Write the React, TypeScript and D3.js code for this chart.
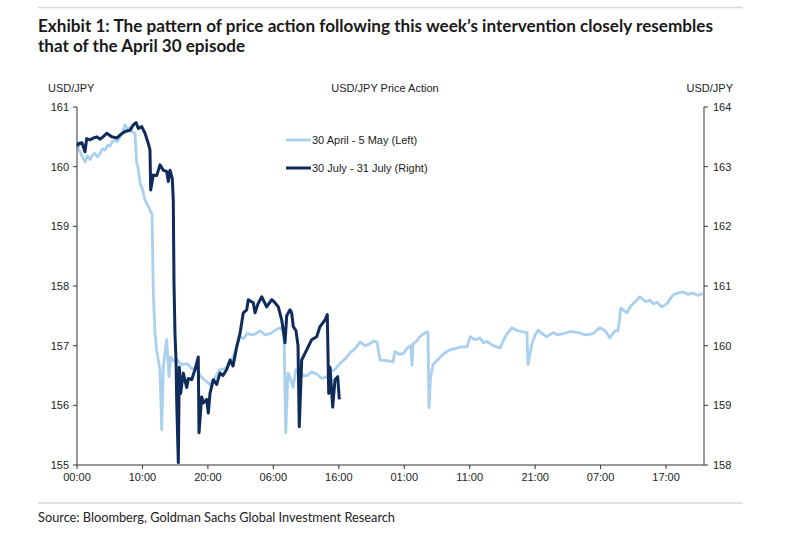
import React from 'react';
import * as d3 from 'd3';

type Pt = [number, number];

// 30 April - 5 May, hours from start vs USD/JPY (left axis)
const aprilSeries: Pt[] = [
  [0.11, 160.34], [0.46, 160.25], [1.22, 160.08], [1.6, 160.18], [1.99, 160.12],
  [2.4, 160.2], [2.75, 160.22], [3.1, 160.16], [3.51, 160.22], [3.9, 160.3],
  [4.28, 160.28], [4.7, 160.36], [5.04, 160.34], [5.4, 160.42], [5.81, 160.44],
  [6.2, 160.42], [6.57, 160.5], [7.03, 160.6], [7.33, 160.7], [7.79, 160.62],
  [8.1, 160.66], [8.4, 160.58], [8.86, 160.56], [9.12, 160.06], [9.3, 160.0],
  [9.63, 159.73], [10.0, 159.62], [10.39, 159.44], [10.7, 159.38], [11.15, 159.27],
  [11.46, 159.2], [11.66, 157.88], [11.92, 157.2], [12.2, 156.9], [12.42, 156.76],
  [12.68, 156.6], [12.94, 155.59], [13.19, 156.64], [13.7, 157.1], [14.06, 156.48],
  [14.32, 156.81], [14.8, 156.74], [15.28, 156.76], [16.0, 156.68], [16.8, 156.7],
  [17.5, 156.62], [18.33, 156.6], [18.8, 156.5], [19.25, 156.45], [19.8, 156.4],
  [20.32, 156.35], [21.0, 156.45], [21.85, 156.6], [22.8, 156.62], [23.83, 156.8],
  [24.4, 157.0], [24.9, 157.15], [25.5, 157.12], [25.97, 157.2], [27.0, 157.18],
  [27.96, 157.25], [28.7, 157.18], [29.5, 157.2], [30.3, 157.26], [31.0, 157.3],
  [31.63, 157.25], [31.89, 155.54], [32.24, 156.54], [32.6, 156.45], [33.0, 156.3],
  [33.46, 156.6], [34.07, 156.55], [34.6, 156.5], [35.14, 156.5], [35.9, 156.56],
  [36.67, 156.52], [37.4, 156.45], [38.2, 156.48], [38.66, 156.6], [39.2, 156.58],
  [39.72, 156.64], [40.18, 156.7], [41.0, 156.78], [41.7, 156.88], [42.5, 156.95],
  [43.24, 157.06], [44.0, 157.0], [44.77, 157.03], [45.3, 157.08], [45.84, 157.06],
  [46.3, 156.76], [47.3, 156.75], [48.28, 156.73], [48.59, 156.9], [49.2, 156.86],
  [49.8, 156.86], [50.4, 156.95], [50.88, 157.0], [51.03, 157.0], [51.18, 156.67],
  [51.34, 157.03], [51.9, 157.08], [52.4, 157.15], [53.0, 157.2], [53.47, 157.23],
  [53.63, 157.22], [53.78, 155.96], [54.0, 156.45], [54.39, 156.68], [55.0, 156.75],
  [55.46, 156.8], [56.2, 156.88], [56.99, 156.93], [57.8, 156.95], [58.7, 156.98],
  [59.59, 156.98], [60.05, 157.15], [60.8, 157.1], [61.57, 157.13], [62.1, 157.05],
  [62.64, 157.07], [63.6, 157.0], [64.63, 156.96], [65.2, 157.1], [65.7, 157.2],
  [66.46, 157.3], [67.3, 157.25], [68.14, 157.23], [68.75, 157.22], [68.9, 156.68],
  [69.52, 157.03], [70.0, 157.18], [70.44, 157.26], [71.1, 157.2], [71.8, 157.15],
  [72.73, 157.22], [73.5, 157.18], [74.26, 157.2], [75.4, 157.24], [76.55, 157.22],
  [77.7, 157.18], [78.84, 157.2], [79.4, 157.26], [79.9, 157.3], [80.7, 157.25],
  [81.43, 157.13], [82.2, 157.25], [82.66, 157.25], [83.1, 157.63], [84.03, 157.55],
  [84.6, 157.66], [85.25, 157.73], [86.0, 157.82], [86.8, 157.74], [87.53, 157.76],
  [88.1, 157.7], [88.6, 157.73], [89.36, 157.65], [90.12, 157.7], [90.6, 157.78],
  [91.06, 157.85], [91.8, 157.88], [92.6, 157.9], [93.3, 157.86], [94.1, 157.88],
  [94.9, 157.84], [95.6, 157.88],
];

// 30 July - 31 July, hours from start vs USD/JPY (right axis)
const julySeries: Pt[] = [
  [0.11, 163.34], [0.2, 163.39], [0.76, 163.4], [1.22, 163.25], [1.48, 163.47],
  [1.99, 163.45], [2.5, 163.48], [3.06, 163.5], [3.5, 163.46], [3.97, 163.5],
  [4.54, 163.56], [5.3, 163.5], [6.07, 163.48], [6.57, 163.53], [7.33, 163.59],
  [8.1, 163.61], [8.6, 163.7], [9.01, 163.74], [9.37, 163.64], [9.89, 163.67],
  [10.39, 163.56], [10.89, 163.39], [11.15, 163.28], [11.26, 162.61], [11.66, 162.86],
  [12.18, 162.85], [12.68, 163.03], [13.19, 162.94], [13.7, 162.92], [13.95, 162.75],
  [14.21, 162.94], [14.56, 162.8], [14.71, 162.44], [14.82, 161.05], [14.97, 160.2],
  [15.13, 159.76], [15.23, 159.1], [15.48, 158.04], [15.63, 159.64], [15.84, 159.2],
  [16.24, 159.54], [16.76, 159.3], [17.01, 159.45], [17.52, 159.43], [18.03, 159.6],
  [18.53, 159.81], [18.64, 158.54], [19.05, 159.14], [19.3, 159.04], [19.82, 159.1],
  [20.06, 158.87], [20.32, 159.2], [20.83, 159.43], [21.34, 159.35], [21.85, 159.54],
  [22.31, 159.5], [22.87, 159.6], [23.38, 159.76], [23.84, 159.66], [24.4, 159.98],
  [24.9, 160.2], [25.41, 160.55], [25.93, 160.6], [26.17, 160.77], [26.94, 160.72],
  [27.2, 160.55], [27.65, 160.7], [28.22, 160.82], [28.98, 160.65], [29.75, 160.77],
  [30.25, 160.72], [30.76, 160.65], [31.28, 160.43], [31.78, 160.05], [32.04, 160.5],
  [32.54, 160.6], [32.8, 160.55], [33.05, 160.32], [33.46, 160.25], [33.77, 160.0],
  [33.96, 158.64], [34.33, 159.76], [35.1, 159.93], [35.86, 160.1], [36.62, 160.15],
  [37.13, 160.32], [37.89, 160.43], [38.24, 160.52], [38.46, 159.2], [38.66, 159.64],
  [39.07, 158.97], [39.42, 159.43], [39.83, 159.48], [40.08, 159.1],
];

const xTickLabels = ['00:00', '10:00', '20:00', '06:00', '16:00', '01:00', '11:00', '21:00', '07:00', '17:00'];
const leftTicks = [155, 156, 157, 158, 159, 160, 161];
const rightTicks = [158, 159, 160, 161, 162, 163, 164];
const legendLabels = ['30 April - 5 May (Left)', '30 July - 31 July (Right)'];

const lightBlue = '#a9d0ef';
const navy = '#0f2b5b';
const axisColor = '#333';
const font = "'Liberation Sans', Arial, sans-serif";

const margin = { top: 107, right: 96, bottom: 68, left: 77 };
const width = 800;
const height = 533;

const App = () => {
  const x = d3
    .scaleLinear()
    .domain([0, 95.8])
    .range([margin.left, width - margin.right]);
  const yLeft = d3
    .scaleLinear()
    .domain([155, 161])
    .range([height - margin.bottom, margin.top]);
  const yRight = d3
    .scaleLinear()
    .domain([158, 164])
    .range([height - margin.bottom, margin.top]);

  const leftLine = d3
    .line<Pt>()
    .x((d) => x(d[0]))
    .y((d) => yLeft(d[1]));
  const rightLine = d3
    .line<Pt>()
    .x((d) => x(d[0]))
    .y((d) => yRight(d[1]));

  const x0 = x.range()[0];
  const x1 = x.range()[1];
  const yB = yLeft.range()[0];
  const yT = yLeft.range()[1];

  return (
    <div style={{ position: 'absolute', left: 0, top: 0 }}>
      <svg width={width} height={height} style={{ display: 'block', background: '#fff' }}>
        {/* header */}
        <line x1={38} x2={743} y1={7.5} y2={7.5} stroke="#d8d8d8" strokeWidth={1.5} />
        <g fontFamily="Lato, 'Open Sans', sans-serif" fontWeight={700} fontSize={16.5} fill="#1a1a1a">
          <text x={38} y={31.5} textLength={675} lengthAdjust="spacingAndGlyphs">
            Exhibit 1: The pattern of price action following this week’s intervention closely resembles
          </text>
          <text x={38} y={52} textLength={207} lengthAdjust="spacingAndGlyphs">
            that of the April 30 episode
          </text>
        </g>

        <g fontFamily={font} fontSize={11} fill="#222">
          <text x={48} y={92}>USD/JPY</text>
          <text x={385} y={92} textAnchor="middle">USD/JPY Price Action</text>
          <text x={733} y={92} textAnchor="end">USD/JPY</text>
        </g>

        {/* series */}
        <path d={leftLine(aprilSeries) ?? ''} fill="none" stroke={lightBlue} strokeWidth={2.8} strokeLinejoin="round" />
        <path d={rightLine(julySeries) ?? ''} fill="none" stroke={navy} strokeWidth={3} strokeLinejoin="round" />

        {/* axes */}
        <g stroke={axisColor} strokeWidth={1}>
          <line x1={x0} x2={x0} y1={yT} y2={yB} />
          <line x1={x1} x2={x1} y1={yT} y2={yB} />
          <line x1={x0} x2={x1} y1={yB} y2={yB} />
          {leftTicks.map((t) => (
            <line key={`l${t}`} x1={x0 - 4} x2={x0} y1={yLeft(t)} y2={yLeft(t)} />
          ))}
          {rightTicks.map((t) => (
            <line key={`r${t}`} x1={x1} x2={x1 + 4} y1={yRight(t)} y2={yRight(t)} />
          ))}
          {xTickLabels.map((_, i) => (
            <line key={`x${i}`} x1={x(i * 10)} x2={x(i * 10)} y1={yB} y2={yB + 4} />
          ))}
        </g>
        <g fontFamily={font} fontSize={11} fill="#222">
          {leftTicks.map((t) => (
            <text key={`lt${t}`} x={x0 - 8} y={yLeft(t) + 4} textAnchor="end">
              {t}
            </text>
          ))}
          {rightTicks.map((t) => (
            <text key={`rt${t}`} x={x1 + 9} y={yRight(t) + 4}>
              {t}
            </text>
          ))}
          {xTickLabels.map((lab, i) => (
            <text key={`xt${i}`} x={x(i * 10)} y={yB + 16} textAnchor="middle">
              {lab}
            </text>
          ))}
        </g>

        {/* legend */}
        <g fontFamily={font} fontSize={11} fill="#222">
          <line x1={286} x2={311} y1={140} y2={140} stroke={lightBlue} strokeWidth={2.8} />
          <text x={312} y={144}>{legendLabels[0]}</text>
          <line x1={286} x2={311} y1={168} y2={168} stroke={navy} strokeWidth={3} />
          <text x={312} y={172}>{legendLabels[1]}</text>
        </g>

        {/* footer */}
        <line x1={38} x2={743} y1={503} y2={503} stroke="#d8d8d8" strokeWidth={1.5} />
        <text
          x={38}
          y={522}
          fontFamily="Lato, 'Open Sans', sans-serif"
          fontSize={13}
          fill="#222"
          textLength={357}
          lengthAdjust="spacingAndGlyphs"
        >
          Source: Bloomberg, Goldman Sachs Global Investment Research
        </text>
      </svg>
    </div>
  );
};

export default App;
